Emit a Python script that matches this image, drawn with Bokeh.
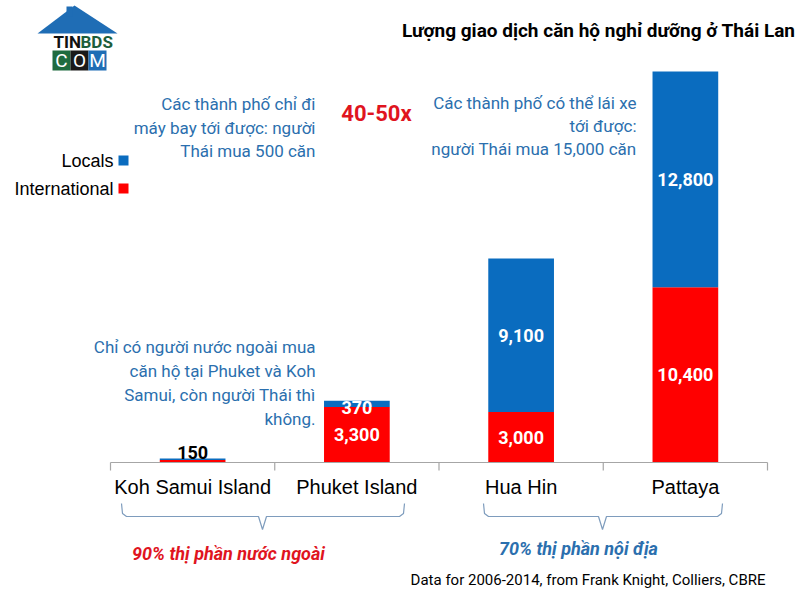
import numpy as np
from bokeh.plotting import figure
from bokeh.models import Range1d, ColumnDataSource
from bokeh.core.properties import value
from bokeh.embed import file_html
from bokeh.resources import INLINE

# ---------------- data ----------------
categories = ["Koh Samui Island", "Phuket Island", "Hua Hin", "Pattaya"]
international = [150, 3300, 3000, 10400]
locals_ = [90, 370, 9100, 12800]
intl_labels = ["", "3,300", "3,000", "10,400"]
local_labels = ["", "370", "9,100", "12,800"]
total_labels = ["150", "", "", ""]
series_names = ["Locals", "International"]

title = "Lượng giao dịch căn hộ nghỉ dưỡng ở Thái Lan"
note_fly = ["Các thành phố chỉ đi", "máy bay tới được: người", "Thái mua 500 căn"]
note_drive = ["Các thành phố có thể lái xe", "tới được:", "người Thái mua 15,000 căn"]
note_foreign = ["Chỉ có người nước ngoài mua", "căn hộ tại Phuket và Koh", "Samui, còn người Thái thì", "không."]
ratio_text = "40-50x"
share_foreign = "90% thị phần nước ngoài"
share_local = "70% thị phần nội địa"
source_text = "Data for 2006-2014, from Frank Knight, Colliers, CBRE"

BLUE = "#0A6CBF"
RED = "#FF0000"
TXT_BLUE = "#2B6FAE"
TXT_RED = "#E0141E"
NARROW = "Roboto"
SANS = "Liberation Sans"

# ---------------- layout helpers (image pixels -> data) ----------------
W, H = 803, 607
X0, BAND = 110.0, 164.25          # x of first category edge, band width
BASE, PXK = 462.0, 0.01685        # y of baseline, pixels per unit

def X(px):
    return (px - X0) / BAND

def Y(py):
    return (BASE - py) / PXK

n = len(categories)
xc = np.arange(n) + 0.5

p = figure(width=W, height=H, output_backend="svg", toolbar_location=None,
           x_range=Range1d(-X0 / BAND, (W - X0) / BAND),
           y_range=Range1d(-(H - BASE) / PXK, BASE / PXK),
           x_axis_location=None, y_axis_location=None, min_border=0)
p.grid.visible = False
p.outline_line_color = None
p.background_fill_color = "white"

# ---------------- bars ----------------
src = ColumnDataSource(dict(
    x=xc, intl=international, loc=locals_,
    top=np.array(international) + np.array(locals_),
    il=intl_labels, ll=local_labels, tl=total_labels,
    iy=np.array(international) / 2.0,
    ly=np.array(international) + np.array(locals_) / 2.0 - np.array([0, 250, 0, 0]),
    ty=np.array(international) + np.array(locals_),
))
p.vbar(x="x", bottom=0, top="intl", width=0.4, source=src, fill_color=RED, line_color=None)
p.vbar(x="x", bottom="intl", top="top", width=0.4, source=src, fill_color=BLUE, line_color=None)

lbl_kw = dict(text_color="white", text_font=value(NARROW), text_font_style="bold",
              text_font_size="18px", text_align="center", text_baseline="middle")
p.text(x="x", y="iy", text="il", source=src, **lbl_kw)
p.text(x="x", y="ly", text="ll", source=src, **lbl_kw)
p.text(x="x", y="ty", text="tl", source=src, y_offset=1, text_color="black",
       text_font=value(NARROW), text_font_style="bold", text_font_size="18px",
       text_align="center", text_baseline="bottom")

# ---------------- category axis ----------------
edges = np.arange(n + 1)
p.segment(x0=[edges[0]], y0=[0], x1=[edges[-1]], y1=[0], line_color="#A6A6A6", line_width=1.2)
p.segment(x0=edges, y0=[0] * (n + 1), x1=edges, y1=[Y(470)] * (n + 1), line_color="#A6A6A6", line_width=1.2)
p.text(x=xc, y=[Y(486)] * n, text=categories, text_font=value(SANS), text_font_size="20px",
       text_color="black", text_align="center", text_baseline="middle")

# ---------------- legend ----------------
p.rect(x=[X(123), X(123)], y=[Y(160), Y(188)], width=10, height=10,
       width_units="screen", height_units="screen", fill_color=[BLUE, RED], line_color=None)
p.text(x=[X(113), X(113)], y=[Y(160), Y(188)], text=series_names, text_font=value(SANS),
       text_font_size="18px", text_color="black", text_align="right", text_baseline="middle")

# ---------------- notes ----------------
def lines(txts, right, ys, color, size="17px", font=NARROW, style="normal", align="right"):
    p.text(x=[X(right)] * len(txts), y=[Y(v) for v in ys], text=txts, text_font=value(font),
           text_font_size=size, text_color=color, text_align=align, text_baseline="middle",
           text_font_style=style)

lines(note_fly, 315, [103, 127, 150], TXT_BLUE)
lines(note_drive, 636, [102, 125, 148], TXT_BLUE)
lines(note_foreign, 315, [346, 370, 394, 418], TXT_BLUE)
lines([ratio_text], 376, [113], TXT_RED, size="22px", style="bold", align="center")
lines([share_foreign], 228, [553], TXT_RED, size="18px", style="bold italic", align="center")
lines([share_local], 578, [548], TXT_BLUE, size="18px", style="bold italic", align="center")
lines([source_text], 765, [579], "black", size="15px", align="right")
lines([title], 795, [30], "black", size="19px", style="bold", align="right")

# ---------------- braces ----------------
def brace(xl, xr, xm, ytop=503, ymid=516, ybot=529):
    xs = [xl, xl + 1, xl + 5, xm - 4, xm, xm + 4, xr - 5, xr - 1, xr]
    ys = [ytop, ymid - 3, ymid, ymid, ybot, ymid, ymid, ymid - 3, ytop]
    p.line(x=[X(v) for v in xs], y=[Y(v) for v in ys], line_color="#7E9CBD", line_width=1.2)

brace(121, 404, 262)
brace(483, 722, 602)

# ---------------- logo ----------------
p.patch(x=[X(37), X(74), X(117)], y=[Y(33), Y(5), Y(33)], fill_color="#1F6DB5", line_color=None)
p.quad(left=[X(66)], right=[X(72)], top=[Y(6)], bottom=[Y(16)], fill_color="#1F6DB5", line_color=None)
p.text(x=[X(53), X(80)], y=[Y(41), Y(41)], text=["TIN", "BDS"], text_font=value(NARROW),
       text_font_size="17px", text_font_style="bold", text_color=["#111111", "#1E5E3A"],
       text_align="left", text_baseline="middle")
box_l = [52, 70, 88]
box_c = ["#1E6B3F", "#1A1A1A", "#1F6DB5"]
p.quad(left=[X(v) for v in box_l], right=[X(v + 18) for v in box_l],
       top=[Y(50)] * 3, bottom=[Y(70)] * 3, fill_color=box_c, line_color=None)
p.text(x=[X(v + 9) for v in box_l], y=[Y(60)] * 3, text=["C", "O", "M"], text_font=value(NARROW),
       text_font_size="19px", text_color="white", text_align="center", text_baseline="middle")

open("out.html", "w").write(file_html(p, INLINE))
